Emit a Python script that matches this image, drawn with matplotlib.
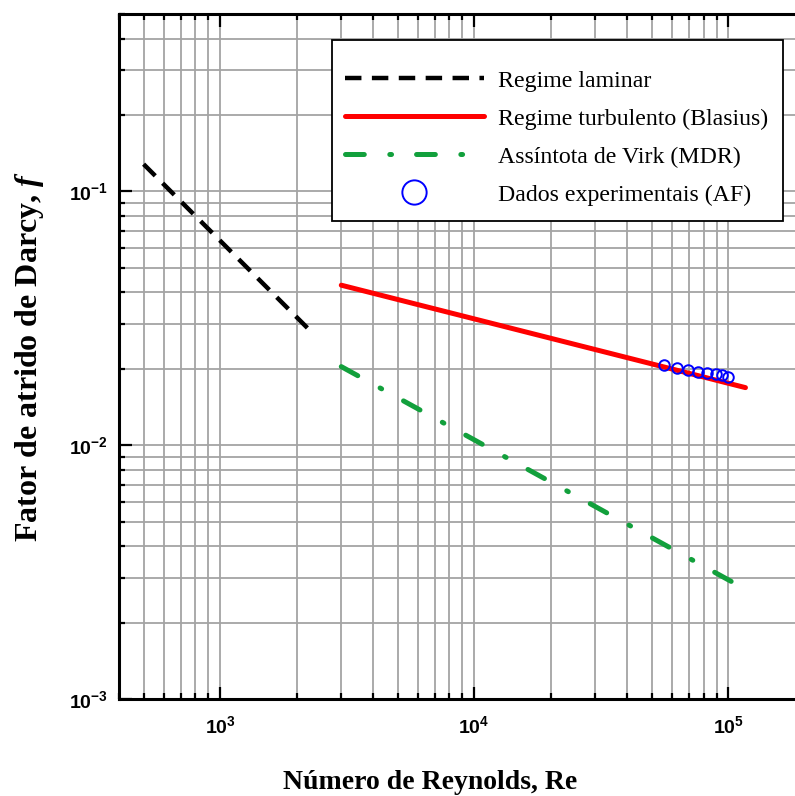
import matplotlib
matplotlib.use('Agg')
import matplotlib.pyplot as plt
from matplotlib.ticker import LogLocator, NullFormatter, FixedLocator, FixedFormatter
from matplotlib.font_manager import FontProperties
from matplotlib.patches import Rectangle

plt.rcParams['mathtext.fontset'] = 'custom'
plt.rcParams['mathtext.sf'] = 'Liberation Sans:bold'
plt.rcParams['mathtext.it'] = 'Liberation Serif:italic:bold'
plt.rcParams['mathtext.rm'] = 'Liberation Serif:bold'
plt.rcParams['mathtext.bf'] = 'Liberation Serif:bold'

# ---- data ----
re_laminar = [500, 2300]
f_laminar = [0.128, 0.0278]

re_blasius = [3000, 117000]
f_blasius = [0.0427, 0.01686]

re_virk = [3000, 110000]
f_virk = [0.0204, 0.0028]

re_exp = [55900, 62800, 69600, 76400, 82800, 89300, 94800, 100200]
f_exp = [0.02066, 0.02018, 0.01987, 0.01946, 0.01917, 0.01900, 0.01883, 0.01860]

x_ticks = [1e3, 1e4, 1e5]
x_tick_labels = ['10^{3}', '10^{4}', '10^{5}']
y_ticks = [1e-3, 1e-2, 1e-1]
y_tick_labels = ['10^{-3}', '10^{-2}', '10^{-1}']

labels = ['Regime laminar', 'Regime turbulento (Blasius)',
          'Assíntota de Virk (MDR)', 'Dados experimentais (AF)']

# ---- figure ----
W, H = 795, 796
fig = plt.figure(figsize=(W / 100, H / 100), dpi=100)
ax = fig.add_axes([119 / W, 97 / H, 685.6 / W, 685 / H])
ax.set_xscale('log')
ax.set_yscale('log')
ax.set_xlim(400, 2e5)
ax.set_ylim(1e-3, 0.5)

ax.set_axisbelow(True)
ax.grid(True, which='both', color='#a4a4a4', lw=1.3)

l1, = ax.plot(re_laminar, f_laminar, color='black', lw=3.2,
              linestyle=(0, (3.7, 2.35)), dash_capstyle='butt', zorder=3)
l2, = ax.plot(re_blasius, f_blasius, color='#ff0000', lw=3.6,
              solid_capstyle='round', zorder=3)
l3, = ax.plot(re_virk, f_virk, color='#12a03c', lw=3.6,
              linestyle=(0, (3.76, 5.1, 0.35, 5.0)), dash_capstyle='round', zorder=3)
l4, = ax.plot(re_exp, f_exp, linestyle='none', marker='o', markersize=7.6,
              markerfacecolor='none', markeredgecolor='#0000ff',
              markeredgewidth=1.4, zorder=4)

ax.xaxis.set_major_locator(FixedLocator(x_ticks))
ax.xaxis.set_major_formatter(FixedFormatter([r'$\mathsf{' + t + '}$' for t in x_tick_labels]))
ax.yaxis.set_major_locator(FixedLocator(y_ticks))
ax.yaxis.set_major_formatter(FixedFormatter([r'$\mathsf{' + t + '}$' for t in y_tick_labels]))
ax.xaxis.set_minor_locator(LogLocator(base=10, subs=range(2, 10), numticks=20))
ax.yaxis.set_minor_locator(LogLocator(base=10, subs=range(2, 10), numticks=20))
ax.xaxis.set_minor_formatter(NullFormatter())
ax.yaxis.set_minor_formatter(NullFormatter())

ax.tick_params(which='both', direction='in', top=True, right=False, width=1.6, color='black')
ax.tick_params(which='major', length=9)
ax.tick_params(which='minor', length=4.5)
ax.tick_params(axis='x', which='major', pad=12, labelsize=14)
ax.tick_params(axis='y', which='major', pad=8, labelsize=14)
for s in ax.spines.values():
    s.set_linewidth(2.2)

ax.set_xlabel('Número de Reynolds, Re', family='Liberation Serif', weight='bold', size=20)
ax.xaxis.set_label_coords((430 - 119) / 685.6, (699 - 789) / 685)
ax.xaxis.label.set_va('baseline')
ax.xaxis.label.set_ha('center')

ax.set_ylabel('Fator de atrido de Darcy, ' + r'$\mathit{f}$', family='Liberation Serif',
              weight='bold', size=23)
ax.yaxis.set_label_coords((37 - 119) / 685.6, (699 - 357) / 685)
ax.yaxis.label.set_va('baseline')
ax.yaxis.label.set_ha('center')
ax.yaxis.label.set_rotation_mode('anchor')

# legend frame
frame = Rectangle((332 / W, 1 - 221 / H), (783 - 332) / W, (221 - 40) / H,
                  transform=fig.transFigure, facecolor='white', edgecolor='black',
                  lw=1.3, zorder=9, clip_on=False)
ax.add_patch(frame)

leg = ax.legend([l1, l2, l3, l4], labels, loc='upper left',
                bbox_to_anchor=(345 / W, 1 - 70 / H), bbox_transform=fig.transFigure,
                borderaxespad=0, borderpad=0,
                prop=FontProperties(family='Liberation Serif', size=17.2),
                handlelength=5.8, handletextpad=0.62, labelspacing=0.68,
                frameon=False, markerscale=2.3, numpoints=1)
leg.set_zorder(10)

fig.savefig('out.png', dpi=100)
